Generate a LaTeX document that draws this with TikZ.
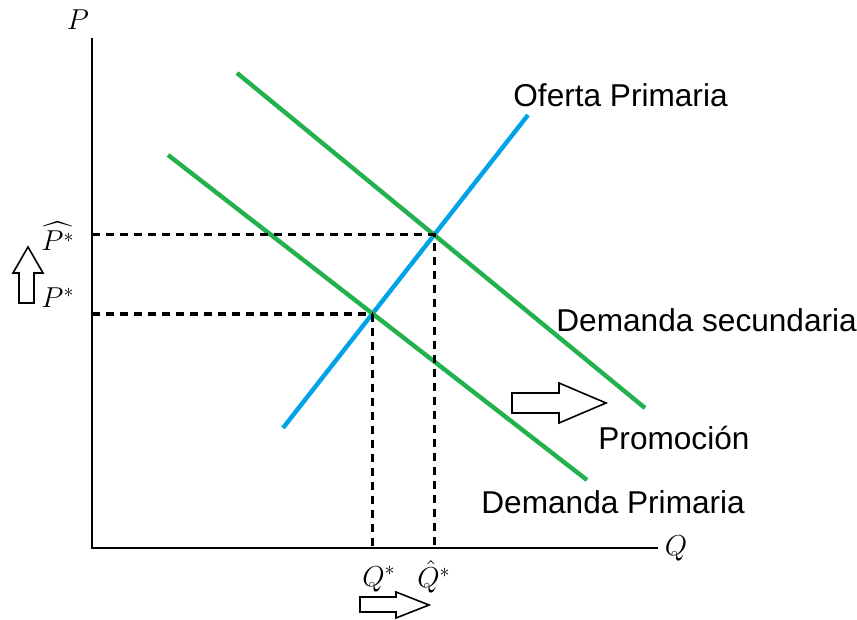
\documentclass[tikz,border=0pt]{standalone}
\usepackage{amsmath}
\usepackage{fontspec}
\setsansfont{Liberation Sans}
\usetikzlibrary{intersections}
\definecolor{supplyblue}{RGB}{0,162,232}
\definecolor{demandgreen}{RGB}{34,177,76}
\begin{document}
\begin{tikzpicture}[x=0.5pt,y=-0.5pt,
    axis/.style={line width=1pt},
    curve/.style={line width=2.2pt},
    guide/.style={line width=1.4pt, dash pattern=on 4pt off 3pt},
    lbl/.style={anchor=west, inner sep=0pt, font=\sffamily\fontsize{15.8}{18}\selectfont},
    mlbl/.style={inner sep=0pt, font=\fontsize{14.5}{16}\selectfont},
    shiftarrow/.style={draw, line width=0.8pt, line join=miter}
]
\useasboundingbox (0,0) rectangle (857,620);

% axes
\coordinate (origin) at (92,548);
\coordinate (ptop) at (92,38);
\coordinate (qend) at (658,548);
\draw[axis] (ptop) -- (origin) -- (qend);
\node[mlbl] (plabel) at (78,20) {$P$};
\node[mlbl] (qlabel) at (676,548) {$Q$};

% curves
\draw[curve, supplyblue, name path=supply] (283,428) -- (528,115);
\draw[curve, demandgreen, name path=dprim] (168,155) -- (587,480);
\draw[curve, demandgreen, name path=dsec] (237,73) -- (645,408);
\path[name intersections={of=supply and dprim, by=eqprim}];
\path[name intersections={of=supply and dsec, by=eqsec}];

% guides
\draw[guide] (eqsec -| origin) -- (eqsec) -- (eqsec |- origin);
\draw[guide, line width=2pt] (eqprim -| origin) -- (eqprim);
\draw[guide] (eqprim) -- (eqprim |- origin);

% labels
\node[lbl] (oferta) at (513,95) {Oferta Primaria};
\node[lbl] (dsecl) at (556,320) {Demanda secundaria};
\node[lbl] (promo) at (598,438) {Promoción};
\node[lbl] (dpriml) at (481,502) {Demanda Primaria};
\node[mlbl] (phat) at (58,236) {$\widehat{P^*}$};
\node[mlbl] (pstar) at (58,298) {$P^*$};
\node[mlbl] (qstar) at (379,579) {$Q^*$};
\node[mlbl] (qhat) at (434,577) {$\hat{Q}^*$};

% shift arrows
\draw[shiftarrow] (512,393) -- (559,393) -- (559,383) -- (606,403)
    -- (559,423) -- (559,413) -- (512,413) -- cycle;
\draw[shiftarrow] (360,597) -- (396,597) -- (396,592) -- (429,605)
    -- (396,618) -- (396,612) -- (360,612) -- cycle;
\draw[shiftarrow] (19,303) -- (19,273) -- (13,273) -- (28,247)
    -- (43,273) -- (34,273) -- (34,303) -- cycle;
\end{tikzpicture}
\end{document}
